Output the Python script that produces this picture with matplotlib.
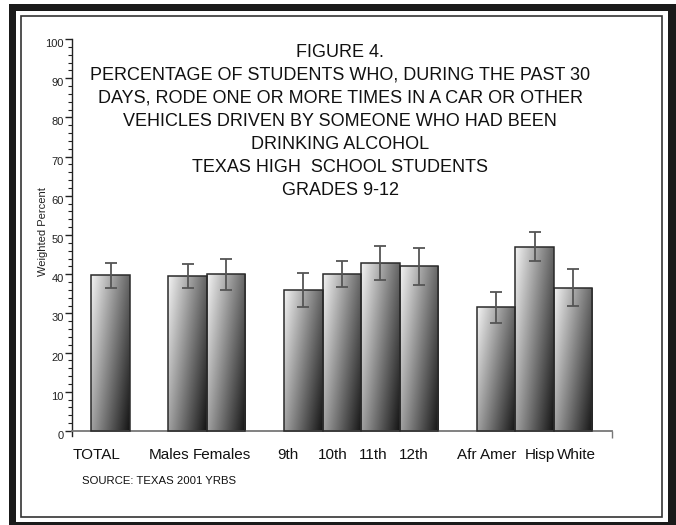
import numpy as np
import matplotlib.pyplot as plt
from matplotlib.patches import Rectangle

plt.rcParams['font.family'] = ['Liberation Sans', 'DejaVu Sans']

# Bar groups: positions along the x axis (bar widths = 1)
positions = [1, 3, 4, 6, 7, 8, 9, 11, 12, 13]
values = [39.8, 39.6, 40.0, 36.0, 40.1, 42.8, 42.0, 31.6, 46.9, 36.6]
err_low = [36.6, 36.6, 36.0, 31.7, 36.8, 38.4, 37.3, 27.6, 43.4, 31.9]
err_high = [42.9, 42.7, 43.8, 40.3, 43.3, 47.3, 46.8, 35.5, 50.7, 41.2]

labels = ['TOTAL', 'Males', 'Females', '9th', '10th', '11th', '12th',
          'Afr Amer', 'Hisp', 'White']
label_x = [0.64, 2.51, 3.89, 5.60, 6.77, 7.81, 8.87, 10.75, 12.13, 13.09]

title = ('FIGURE 4.\n'
         'PERCENTAGE OF STUDENTS WHO, DURING THE PAST 30\n'
         'DAYS, RODE ONE OR MORE TIMES IN A CAR OR OTHER\n'
         'VEHICLES DRIVEN BY SOMEONE WHO HAD BEEN\n'
         'DRINKING ALCOHOL\n'
         'TEXAS HIGH  SCHOOL STUDENTS\n'
         'GRADES 9-12')

W, H = 676, 525
fig = plt.figure(figsize=(W / 100, H / 100), dpi=100)


def px(x0, y0, x1, y1, **kw):
    # rectangle given in pixel coords (origin top-left)
    return Rectangle((x0 / W, 1 - y1 / H), (x1 - x0) / W, (y1 - y0) / H,
                     transform=fig.transFigure, **kw)


# page frame
fig.add_artist(px(9, 4, 676, 11, color='#1a1a1a', lw=0))
fig.add_artist(px(9, 4, 16, 525, color='#1a1a1a', lw=0))
fig.add_artist(px(668, 4, 676, 525, color='#1a1a1a', lw=0))
fig.add_artist(px(9, 522, 676, 525, color='#1a1a1a', lw=0))
fig.add_artist(px(21, 16, 662, 517, fill=False, ec='#333333', lw=1.2))

ax_w = 611.7 - 72
ax = fig.add_axes([72 / W, 1 - 436.1 / H, ax_w / W, (436.1 - 39) / H])
ax.set_xlim(0, 14)
ax.set_ylim(-1.3, 100)
ax.patch.set_alpha(0)

# gradient fill: light at top-left, dark at bottom-right
u = np.linspace(0, 1, 60)[None, :]
v = np.linspace(0, 1, 120)[:, None]
grad = 0.95 - 0.55 * u - 0.32 * v
grad = np.clip(grad, 0.05, 1)

bars = ax.bar(positions, values, width=1, facecolor='none',
              edgecolor='#2a2a2a', linewidth=1.1, zorder=3)
for b in bars:
    x0, y0 = b.get_x(), b.get_y()
    im = ax.imshow(grad, cmap='gray', vmin=0, vmax=1, aspect='auto',
                   extent=(x0, x0 + b.get_width(), y0, y0 + b.get_height()),
                   origin='upper', zorder=2, interpolation='bilinear')
    im.set_clip_path(b)

yerr = [np.array(values) - np.array(err_low), np.array(err_high) - np.array(values)]
ax.errorbar(positions, values, yerr=yerr, fmt='none', ecolor='#555555',
            elinewidth=1.3, capsize=4.3, capthick=1.3, zorder=4)

for s in ['top', 'right']:
    ax.spines[s].set_visible(False)
ax.spines['bottom'].set_position(('data', 0))
ax.spines['bottom'].set_color('#777777')
ax.spines['bottom'].set_linewidth(1.3)
ax.spines['left'].set_color('#222222')
ax.spines['left'].set_linewidth(1.0)

ax.set_yticks(range(0, 101, 10))
ax.set_yticks(range(0, 101, 2), minor=True)
ax.tick_params(axis='y', which='major', length=5, width=1, labelsize=8,
               pad=1, colors='#222222')
ax.tick_params(axis='y', which='minor', length=3, width=0.8, colors='#222222')
for t in ax.get_yticklabels():
    t.set_va('top')

ax.set_xticks(label_x)
ax.set_xticklabels(labels)
ax.set_xticks([14], minor=True)
ax.tick_params(axis='x', which='major', length=0, labelsize=11, pad=12,
               colors='#111111')
ax.tick_params(axis='x', which='minor', length=5, width=1, color='#777777')

ax.set_ylabel('Weighted Percent', fontsize=8, color='#222222')
ax.yaxis.set_label_coords((48 - 72) / ax_w, 0.515)

fig.text(340 / W, 1 - 44 / H, title, ha='center', va='top', fontsize=13,
         linespacing=1.46, color='#111111')
fig.text(82 / W, 1 - 481 / H, 'SOURCE: TEXAS 2001 YRBS', ha='left',
         va='center', fontsize=8.2, color='#111111')

fig.savefig('out.png', dpi=100)
